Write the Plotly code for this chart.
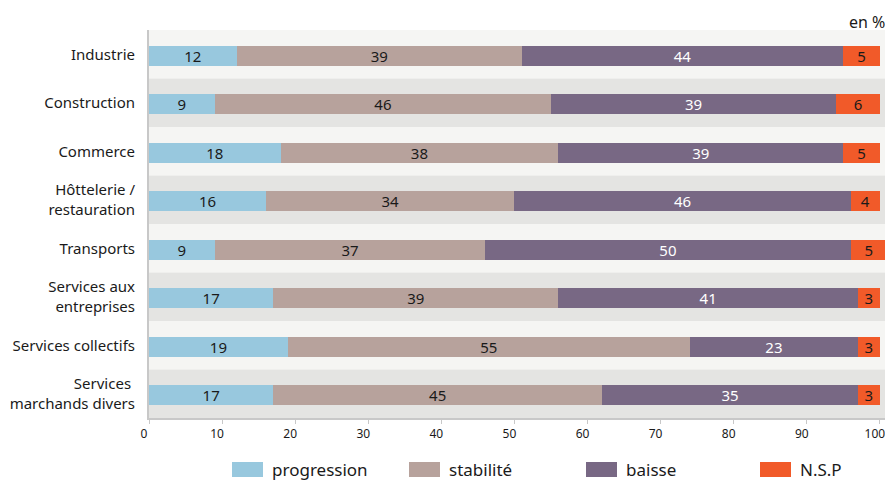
import plotly.graph_objects as go

categories = ["Industrie", "Construction", "Commerce", "Hôttelerie /<br>restauration",
              "Transports", "Services aux<br>entreprises", "Services collectifs",
              "Services <br>marchands divers"]
progression = [12, 9, 18, 16, 9, 17, 19, 17]
stabilite = [39, 46, 38, 34, 37, 39, 55, 45]
baisse = [44, 39, 39, 46, 50, 41, 23, 35]
nsp = [5, 6, 5, 4, 5, 3, 3, 3]
series_names = ["progression", "stabilité", "baisse", "N.S.P"]
tick_vals = [0, 10, 20, 30, 40, 50, 60, 70, 80, 90, 100]

colors = ["#98c8de", "#b7a29c", "#786884", "#f15a29"]
text_colors = ["#1a1a1a", "#1a1a1a", "#ffffff", "#1a1a1a"]
FONT = "Noto Sans"

fig = go.Figure()
for name, vals, c, tc in zip(series_names, [progression, stabilite, baisse, nsp], colors, text_colors):
    fig.add_trace(go.Bar(
        y=categories, x=vals, name=name, orientation="h",
        marker=dict(color=c, line=dict(width=0)),
        width=0.42, offset=-0.18,
        text=[str(v) for v in vals], textposition="inside", textangle=0,
        insidetextanchor="middle", constraintext="none",
        textfont=dict(family=FONT, size=15, color=tc),
        showlegend=False, hoverinfo="x+y+name",
    ))

shapes = []
band_colors = ["#f5f5f3", "#e4e4e2"]
for i, cat in enumerate(categories):
    shapes.append(dict(type="rect", xref="paper", yref="y", x0=0, x1=1,
                       y0=i - 0.5, y1=i + 0.5, fillcolor=band_colors[i % 2],
                       line=dict(width=0), layer="below"))

# manual legend
annotations = []
leg_x = [232, 409, 586, 760]
W = 885
for name, c, lx in zip(series_names, colors, leg_x):
    shapes.append(dict(type="rect", xref="paper", yref="paper",
                       x0=(lx - 149) / (W - 149), x1=(lx + 31 - 149) / (W - 149),
                       y0=-(462 - 418) / 388, y1=-(477 - 418) / 388,
                       fillcolor=c, line=dict(width=0)))
    annotations.append(dict(xref="paper", yref="paper",
                            x=(lx + 38 - 149) / (W - 149), y=-(469.5 - 418) / 388,
                            text=name, showarrow=False, xanchor="left", yanchor="middle",
                            font=dict(family=FONT, size=17, color="#1a1a1a")))

annotations.append(dict(xref="paper", yref="paper", x=1, y=1, xanchor="right", yanchor="bottom",
                        text="en %", showarrow=False, yshift=-5, xshift=2,
                        font=dict(family=FONT, size=16, color="#1a1a1a")))

fig.update_layout(
    width=885, height=481,
    margin=dict(l=149, r=0, t=30, b=63),
    barmode="stack", bargap=0.58,
    paper_bgcolor="white", plot_bgcolor="white",
    font=dict(family=FONT, color="#1a1a1a"),
    shapes=shapes, annotations=annotations,
    xaxis=dict(range=[0, 100.7], tickvals=tick_vals, ticktext=[str(v) for v in tick_vals],
               showgrid=False, zeroline=False, showline=True, linecolor="#c8c8c8", linewidth=2,
               ticks="outside", ticklen=4, tickcolor="#c8c8c8", tickwidth=1,
               ticklabelshift=-5, ticklabeloverflow="allow",
               tickfont=dict(family=FONT, size=12, color="#1a1a1a"), fixedrange=True),
    yaxis=dict(autorange="reversed", showgrid=False, zeroline=False, showline=True,
               linecolor="#c8c8c8", linewidth=2, ticks="", ticklabelstandoff=9,
               tickfont=dict(family=FONT, size=15, color="#1a1a1a"), fixedrange=True),
)

fig.write_html("out.html")
